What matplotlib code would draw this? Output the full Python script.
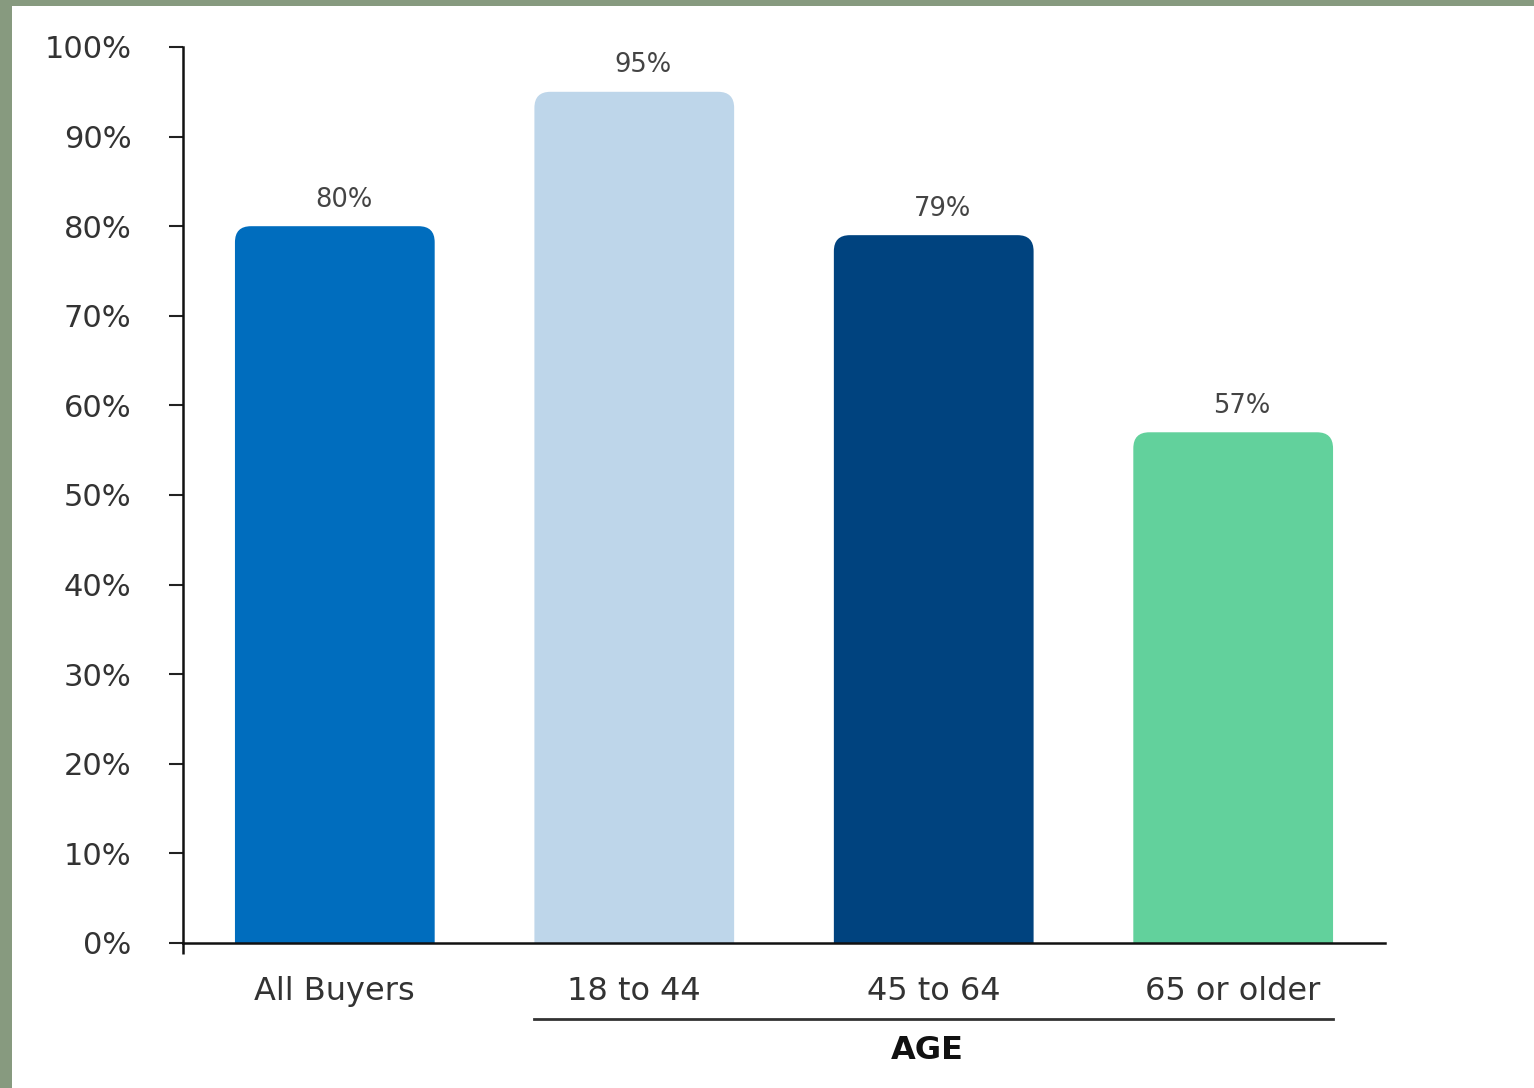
import matplotlib.pyplot as plt
from matplotlib.patches import FancyBboxPatch, Rectangle
from matplotlib.lines import Line2D

categories = ["All Buyers", "18 to 44", "45 to 64", "65 or older"]
values = [80, 95, 79, 57]
bar_colors = ["#006DBE", "#BED6EA", "#00437F", "#62D19C"]
yticks = [0, 10, 20, 30, 40, 50, 60, 70, 80, 90, 100]
group_label = "AGE"

W, H = 1534, 1088
fig = plt.figure(figsize=(W / 100, H / 100), dpi=100)
fig.patch.set_facecolor("white")

# green-gray frame on the top and left edges
fig.patches.append(Rectangle((0, 0), 12 / W, 1, transform=fig.transFigure,
                             facecolor="#879A7F", edgecolor="none", zorder=0))
fig.patches.append(Rectangle((0, 1 - 6 / H), 1, 6 / H, transform=fig.transFigure,
                             facecolor="#879A7F", edgecolor="none", zorder=0))

ax_l, ax_r, ax_t, ax_b = 183, 1385, 47, 943
ax = fig.add_axes([ax_l / W, 1 - ax_b / H, (ax_r - ax_l) / W, (ax_b - ax_t) / H])

xlo, xhi = -0.507, 3.507
ax.set_xlim(xlo, xhi)
ax.set_ylim(0, 100)

# rounded-top bars: radius in pixels converted to data units per axis
bw = 0.667
r_px = 16
px_per_x = (ax_r - ax_l) / (xhi - xlo)
px_per_y = (ax_b - ax_t) / 100
rx = r_px / px_per_x
aspect = (r_px / px_per_y) / rx
for i, (v, c) in enumerate(zip(values, bar_colors)):
    p = FancyBboxPatch((i - bw / 2, -10), bw, v + 10,
                       boxstyle=f"round,pad=0,rounding_size={rx}",
                       mutation_aspect=aspect, facecolor=c, edgecolor="none",
                       zorder=2)
    ax.add_patch(p)
    ax.text(i + 0.03, v + 1.5, f"{v}%", ha="center", va="bottom",
            fontsize=18.5, color="#444444")

ax.set_yticks(yticks)
ax.set_yticklabels([f"{t}%" for t in yticks], fontsize=22, color="#333333")
ax.set_xticks(range(len(categories)))
ax.set_xticklabels(categories, fontsize=23, color="#333333")
ax.set_xticks([xlo], minor=True)
ax.tick_params(axis="y", length=10, width=1.5, pad=27, color="#222222")
ax.tick_params(axis="x", which="major", length=0, pad=24)
ax.tick_params(axis="x", which="minor", length=8, width=1.8, color="#111111")

for s in ["top", "right"]:
    ax.spines[s].set_visible(False)
ax.spines["left"].set_linewidth(1.8)
ax.spines["bottom"].set_linewidth(1.8)
ax.spines["left"].set_color("#111111")
ax.spines["bottom"].set_color("#111111")

# bracket line and group label under the age categories
tr = ax.get_xaxis_transform()
ax.add_line(Line2D([1 - bw / 2, 3 + bw / 2], [-0.085, -0.085], transform=tr,
                   color="#333333", linewidth=2, clip_on=False))
ax.text(1.98, -0.12, group_label, transform=tr, ha="center", va="center",
        fontsize=23, fontweight="bold", color="#111111")

fig.savefig("out.png", dpi=100)
